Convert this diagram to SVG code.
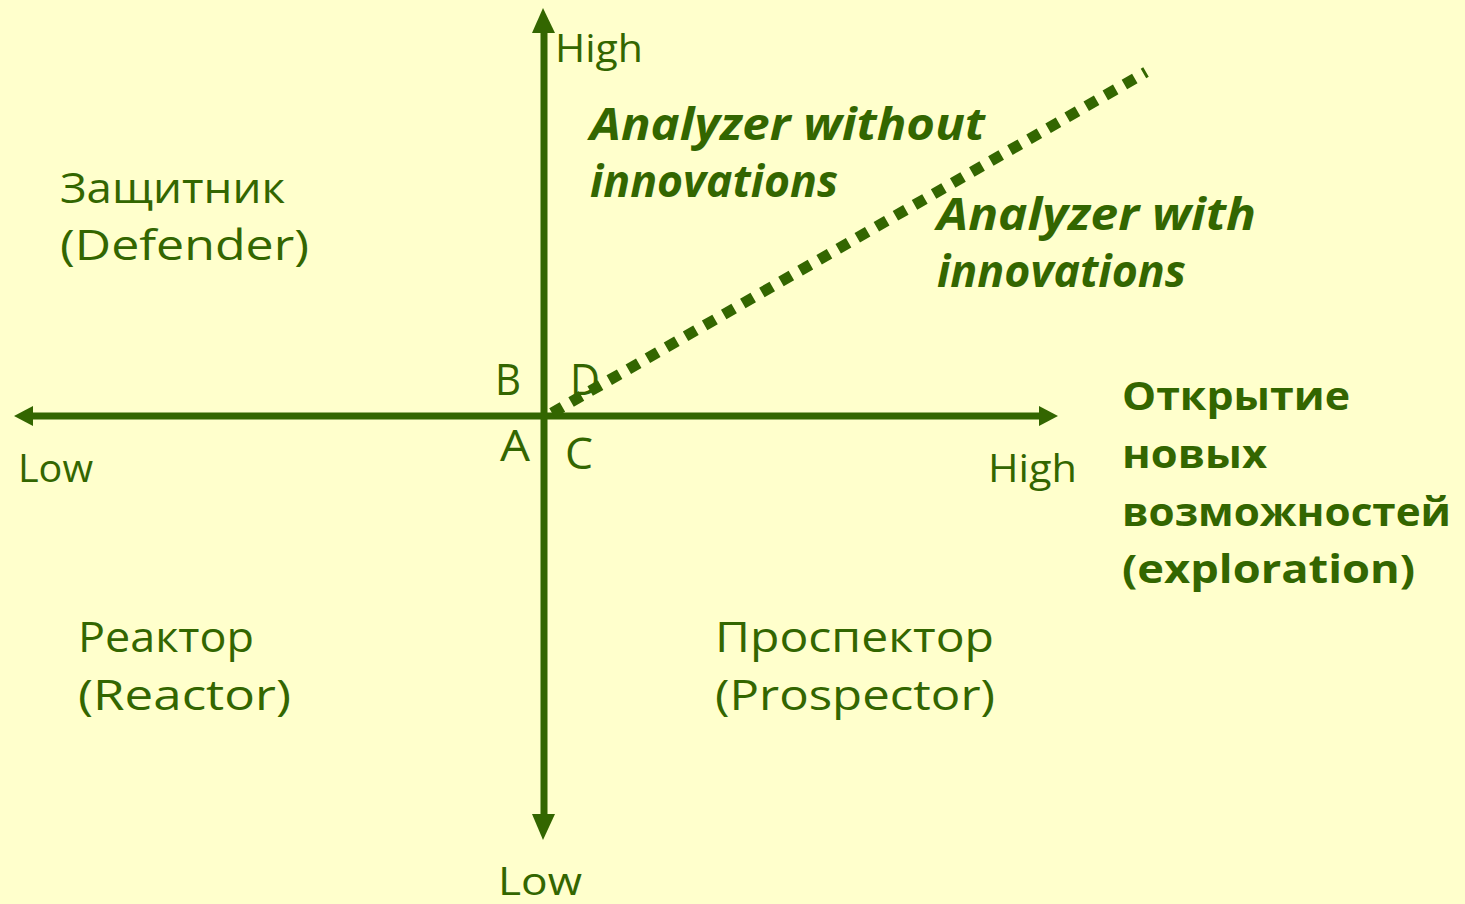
<svg xmlns="http://www.w3.org/2000/svg" width="1465" height="904" viewBox="0 0 1465 904">
<style>
.t{font-family:"Open Sans","Liberation Sans",sans-serif;fill:#336600;font-size:42px}
.ax{font-size:38px}
.bi{font-weight:bold;font-style:italic;font-size:44px}
.b{font-weight:bold;font-size:40px}
.lt{font-size:44px}
.axis{stroke:#336600;stroke-width:7;fill:none}
.ah{fill:#336600}
</style>
<rect width="1465" height="904" fill="#FFFFCC"/>
<g id="connectors">
<line class="axis" x1="544" y1="28" x2="544" y2="818"/>
<line class="axis" x1="30" y1="416" x2="1042" y2="416"/>
<polygon class="ah" points="543,8 532,33 555,33"/>
<polygon class="ah" points="543,840 532,814 555,814"/>
<polygon class="ah" points="14,416 33,406 33,426"/>
<polygon class="ah" points="1058,416 1039,406 1039,426"/>
<line x1="552" y1="413" x2="1146" y2="72" stroke="#336600" stroke-width="11" stroke-dasharray="12 10"/>
</g>
<g id="axis-labels">
<text class="t ax" x="555" y="62" textLength="88" lengthAdjust="spacingAndGlyphs">High</text>
<text class="t ax" x="18" y="482" textLength="75" lengthAdjust="spacingAndGlyphs">Low</text>
<text class="t ax" x="988" y="482" textLength="89" lengthAdjust="spacingAndGlyphs">High</text>
<text class="t ax" x="498" y="895" textLength="84" lengthAdjust="spacingAndGlyphs">Low</text>
</g>
<g id="points">
<text class="t lt" x="495" y="395" textLength="26" lengthAdjust="spacingAndGlyphs">B</text>
<text class="t lt" x="570" y="395" textLength="30" lengthAdjust="spacingAndGlyphs">D</text>
<text class="t lt" x="500" y="461" textLength="30" lengthAdjust="spacingAndGlyphs">A</text>
<text class="t lt" x="565" y="469" textLength="28" lengthAdjust="spacingAndGlyphs">C</text>
</g>
<g id="analyzer-without">
<text class="t bi" x="590" y="140" textLength="395" lengthAdjust="spacingAndGlyphs">Analyzer without</text>
<text class="t bi" x="590" y="197" textLength="248" lengthAdjust="spacingAndGlyphs">innovations</text>
</g>
<g id="analyzer-with">
<text class="t bi" x="937" y="230" textLength="319" lengthAdjust="spacingAndGlyphs">Analyzer with</text>
<text class="t bi" x="937" y="287" textLength="249" lengthAdjust="spacingAndGlyphs">innovations</text>
</g>
<g id="defender">
<text class="t" x="60" y="203" textLength="225" lengthAdjust="spacingAndGlyphs">Защитник</text>
<text class="t" x="60" y="260" textLength="249" lengthAdjust="spacingAndGlyphs">(Defender)</text>
</g>
<g id="exploration">
<text class="t b" x="1122" y="410" textLength="228" lengthAdjust="spacingAndGlyphs">Открытие</text>
<text class="t b" x="1122" y="468" textLength="145" lengthAdjust="spacingAndGlyphs">новых</text>
<text class="t b" x="1122" y="526" textLength="329" lengthAdjust="spacingAndGlyphs">возможностей</text>
<text class="t b" x="1122" y="583" textLength="293" lengthAdjust="spacingAndGlyphs">(exploration)</text>
</g>
<g id="reactor">
<text class="t" x="78" y="652" textLength="176" lengthAdjust="spacingAndGlyphs">Реактор</text>
<text class="t" x="78" y="710" textLength="213" lengthAdjust="spacingAndGlyphs">(Reactor)</text>
</g>
<g id="prospector">
<text class="t" x="715" y="652" textLength="279" lengthAdjust="spacingAndGlyphs">Проспектор</text>
<text class="t" x="715" y="710" textLength="280" lengthAdjust="spacingAndGlyphs">(Prospector)</text>
</g>
</svg>
